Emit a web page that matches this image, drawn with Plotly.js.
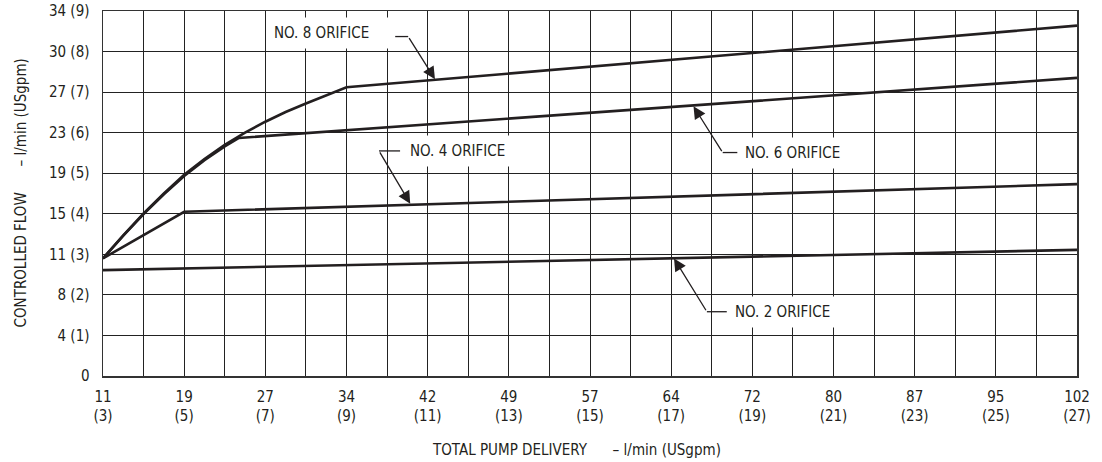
<!DOCTYPE html>
<html>
<head>
<meta charset="utf-8">
<script src="https://cdn.plot.ly/plotly-3.0.1.min.js"></script>
<style>
html,body{margin:0;padding:0;background:#fff;}
#chart{width:1102px;height:462px;}
</style>
</head>
<body>
<div id="chart"></div>
<script>
// Data in USgpm units (both axes)
const xTickVals = [3,4,5,6,7,8,9,10,11,12,13,14,15,16,17,18,19,20,21,22,23,24,25,26,27];
const xTickText = ["11<br>(3)","","19<br>(5)","","27<br>(7)","","34<br>(9)","","42<br>(11)","","49<br>(13)","","57<br>(15)","","64<br>(17)","","72<br>(19)","","80<br>(21)","","87<br>(23)","","95<br>(25)","","102<br>(27)"];
const yTickVals = [0,1,2,3,4,5,6,7,8,9];
const yTickText = ["0","4 (1)","8 (2)","11 (3)","15 (4)","19 (5)","23 (6)","27 (7)","30 (8)","34 (9)"];

const no2X = [3, 27];
const no2Y = [2.61, 3.11];

const no4X = [3, 5, 27];
const no4Y = [2.90, 4.05, 4.73];

const no6X = [3, 3.5, 4, 4.5, 5, 5.5, 6, 6.35, 27];
const no6Y = [2.90, 3.46, 3.99, 4.48, 4.93, 5.32, 5.66, 5.87, 7.35];

const no8X = [3, 3.5, 4, 4.5, 5, 5.5, 6, 6.5, 7, 7.5, 8, 8.5, 9, 27];
const no8Y = [2.90, 3.47, 4.01, 4.50, 4.96, 5.35, 5.70, 6.00, 6.27, 6.51, 6.72, 6.93, 7.12, 8.64];

const labels = ["NO. 2 ORIFICE", "NO. 4 ORIFICE", "NO. 6 ORIFICE", "NO. 8 ORIFICE"];

const FONT = '"Liberation Sans Narrow", "DejaVu Sans Condensed", "Roboto Condensed", Arial, sans-serif';
const INK = '#231f20';
const lineStyle = {color: INK, width: 2.6};

const traces = [
  {x: no2X, y: no2Y, mode: 'lines', line: lineStyle, name: labels[0]},
  {x: no4X, y: no4Y, mode: 'lines', line: lineStyle, name: labels[1]},
  {x: no6X, y: no6Y, mode: 'lines', line: lineStyle, name: labels[2]},
  {x: no8X, y: no8Y, mode: 'lines', line: lineStyle, name: labels[3]}
];

function textAnn(txt, x, y) {
  return {text: txt, x: x, y: y, xref: 'x', yref: 'y', showarrow: false,
    xanchor: 'center', yanchor: 'middle', bgcolor: '#ffffff', borderpad: 6,
    font: {family: FONT, size: 15, color: INK}};
}
function arrowAnn(tipX, tipY, tailX, tailY) {
  return {text: '', x: tipX, y: tipY, ax: tailX, ay: tailY, xref: 'x', yref: 'y',
    axref: 'x', ayref: 'y', showarrow: true, arrowhead: 2, arrowsize: 1.9,
    arrowwidth: 1.3, arrowcolor: INK, standoff: 0};
}

const annotations = [
  textAnn(labels[3] + '\u00a0\u00a0\u00a0', 8.55, 8.45),
  textAnn(labels[1], 11.74, 5.555),
  textAnn(labels[2], 19.99, 5.505),
  textAnn(labels[0], 19.74, 1.585),
  arrowAnn(11.18, 7.32, 10.52, 8.37),
  arrowAnn(10.57, 4.25, 9.80, 5.55),
  arrowAnn(17.55, 6.65, 18.27, 5.51),
  arrowAnn(17.07, 2.90, 17.88, 1.585),
  {text: 'TOTAL PUMP DELIVERY\u00a0\u00a0\u00a0\u00a0\u00a0 \u2013 l/min (USgpm)', xref: 'paper', yref: 'paper',
    x: 0.4865, y: 0, yshift: -74, xanchor: 'center', yanchor: 'middle', showarrow: false,
    font: {family: FONT, size: 15, color: INK}},
  {text: 'CONTROLLED FLOW\u00a0\u00a0\u00a0\u00a0\u00a0 \u2013 l/min (USgpm)', xref: 'paper', yref: 'paper',
    x: 0, xshift: -83, y: 0.5, xanchor: 'center', yanchor: 'middle', textangle: -90, showarrow: false,
    font: {family: FONT, size: 15, color: INK}}
];

const shapes = [
  {type: 'line', xref: 'x', yref: 'y', x0: 10.20, x1: 10.52, y0: 8.37, y1: 8.37, line: {color: INK, width: 1.3}},
  {type: 'line', xref: 'x', yref: 'y', x0: 9.80, x1: 10.32, y0: 5.55, y1: 5.55, line: {color: INK, width: 1.3}},
  {type: 'line', xref: 'x', yref: 'y', x0: 18.27, x1: 18.63, y0: 5.51, y1: 5.51, line: {color: INK, width: 1.3}},
  {type: 'line', xref: 'x', yref: 'y', x0: 17.88, x1: 18.37, y0: 1.585, y1: 1.585, line: {color: INK, width: 1.3}}
];

const layout = {
  width: 1102, height: 462,
  margin: {l: 103, r: 25, t: 11, b: 86},
  paper_bgcolor: '#ffffff', plot_bgcolor: '#ffffff',
  showlegend: false,
  font: {family: FONT, size: 15, color: INK},
  xaxis: {range: [3, 27], tickmode: 'array', tickvals: xTickVals, ticktext: xTickText,
    showgrid: true, gridcolor: '#222222', gridwidth: 1, zeroline: false,
    showline: true, linecolor: '#333333', linewidth: 1.5, mirror: true,
    ticks: '', ticklabelstandoff: 6, tickfont: {family: FONT, size: 15, color: INK}, fixedrange: true},
  yaxis: {range: [0, 9], tickmode: 'array', tickvals: yTickVals, ticktext: yTickText,
    showgrid: true, gridcolor: '#222222', gridwidth: 1, zeroline: false,
    showline: true, linecolor: '#333333', linewidth: 1.5, mirror: true,
    ticks: '', ticklabelstandoff: 9, tickfont: {family: FONT, size: 15, color: INK}, fixedrange: true},
  annotations: annotations,
  shapes: shapes
};

Plotly.newPlot('chart', traces, layout, {displayModeBar: false, staticPlot: true});
</script>
</body>
</html>
